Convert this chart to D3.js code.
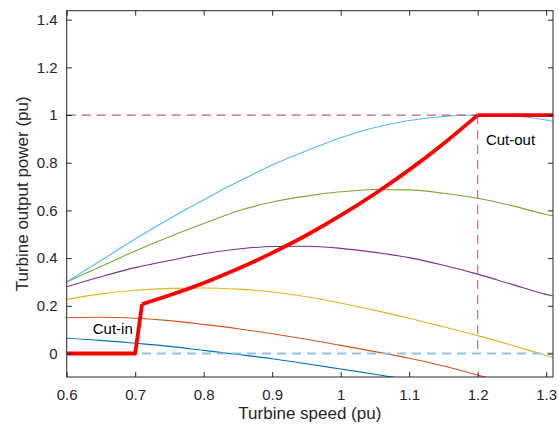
<!DOCTYPE html>
<html>
<head>
<meta charset="utf-8">
<script src="https://cdn.jsdelivr.net/npm/d3@7"></script>
<style>
  body { margin: 0; background: #fff; }
  svg { display: block; font-family: "Liberation Sans", Arial, sans-serif; }
</style>
</head>
<body>
<svg id="chart" width="559" height="425"></svg>
<script>
// ---- data ----
const speeds = [0.6, 0.65, 0.7, 0.75, 0.8, 0.85, 0.9, 0.95, 1.0, 1.05, 1.1, 1.15, 1.2, 1.25, 1.3, 1.31];
const cyanPower   = [0.30, 0.39, 0.48, 0.565, 0.645, 0.72, 0.79, 0.85, 0.905, 0.948, 0.977, 0.994, 1.0, 0.996, 0.979, 0.973];
const greenPower  = [0.30, 0.365, 0.43, 0.49, 0.545, 0.598, 0.635, 0.66, 0.678, 0.688, 0.686, 0.672, 0.651, 0.62, 0.583, 0.577];
const purplePower = [0.28, 0.322, 0.36, 0.39, 0.418, 0.438, 0.449, 0.45, 0.441, 0.424, 0.402, 0.37, 0.333, 0.29, 0.248, 0.241];
const yellowPower = [0.227, 0.25, 0.265, 0.273, 0.275, 0.27, 0.258, 0.238, 0.212, 0.181, 0.148, 0.112, 0.075, 0.035, -0.008, -0.016];
const orangePower = [0.150, 0.152, 0.148, 0.138, 0.122, 0.104, 0.083, 0.060, 0.034, 0.008, -0.02, -0.052, -0.09, -0.13, -0.17, -0.18];
const bluePower   = [0.064, 0.055, 0.043, 0.030, 0.013, -0.004, -0.022, -0.043, -0.065, -0.087, -0.11, -0.135, -0.16, -0.185, -0.21, -0.215];

// MPPT (red) curve: flat before cut-in, rising part, flat after rated speed
const mpptSpeed = [0.6, 0.7, 0.71, 0.75, 0.8, 0.85, 0.9, 0.95, 1.0, 1.05, 1.1, 1.15, 1.2, 1.31];
const mpptPower = [0, 0, 0.207, 0.244, 0.296, 0.355, 0.422, 0.496, 0.579, 0.670, 0.770, 0.880, 1.0, 1.0];

const xTicks = [0.6, 0.7, 0.8, 0.9, 1.0, 1.1, 1.2, 1.3];
const yTicks = [0, 0.2, 0.4, 0.6, 0.8, 1.0, 1.2, 1.4];
const xLabel = "Turbine speed (pu)";
const yLabel = "Turbine output power (pu)";

// ---- layout ----
const svg = d3.select("#chart");
const L = 66.7, R = 553, T = 10.7, B = 377;
const x = d3.scaleLinear().domain([0.6, 1.31]).range([L, R]);
const y = d3.scaleLinear().domain([-0.0985, 1.4375]).range([B, T]);

svg.append("defs").append("clipPath").attr("id", "clip")
  .append("rect").attr("x", L).attr("y", T).attr("width", R - L).attr("height", B - T);

const plot = svg.append("g").attr("clip-path", "url(#clip)");
const line = d3.line().x(d => x(d[0])).y(d => y(d[1])).curve(d3.curveMonotoneX);

const series = [
  { vals: bluePower,   color: "#0072BD" },
  { vals: orangePower, color: "#D95319" },
  { vals: yellowPower, color: "#EDB120" },
  { vals: purplePower, color: "#7E2F8E" },
  { vals: greenPower,  color: "#77AC30" },
  { vals: cyanPower,   color: "#4DBEEE" }
];
series.forEach(s => {
  plot.append("path")
    .datum(speeds.map((v, i) => [v, s.vals[i]]))
    .attr("fill", "none").attr("stroke", s.color).attr("stroke-width", 1.1)
    .attr("d", line);
});

// dashed reference lines
plot.append("line")
  .attr("x1", x(0.6)).attr("x2", x(1.2)).attr("y1", y(1)).attr("y2", y(1))
  .attr("stroke", "#c0607a").attr("stroke-width", 1.2).attr("stroke-dasharray", "9,6");
plot.append("line")
  .attr("x1", x(1.2)).attr("x2", x(1.2)).attr("y1", y(1)).attr("y2", y(0))
  .attr("stroke", "#c8708c").attr("stroke-width", 1.2).attr("stroke-dasharray", "9,6");
plot.append("line")
  .attr("x1", x(0.71)).attr("x2", x(1.31)).attr("y1", y(0)).attr("y2", y(0))
  .attr("stroke", "#8fc2e6").attr("stroke-width", 1.8).attr("stroke-dasharray", "9,6");

// MPPT red curve: straight segments for the steps, smooth for the rising part
const mppt = mpptSpeed.map((v, i) => [v, mpptPower[i]]);
const redLinear = d3.line().x(d => x(d[0])).y(d => y(d[1]));
const rise = mppt.filter(d => d[0] >= 0.71 && d[0] <= 1.2);
const red = { stroke: "#ff0000", w: 3.8 };
plot.append("path").datum(mppt.filter(d => d[0] <= 0.71))
  .attr("fill", "none").attr("stroke", red.stroke).attr("stroke-width", red.w)
  .attr("stroke-linejoin", "round").attr("d", redLinear);
plot.append("path").datum(rise)
  .attr("fill", "none").attr("stroke", red.stroke).attr("stroke-width", red.w)
  .attr("stroke-linejoin", "round").attr("d", line);
plot.append("path").datum(mppt.filter(d => d[0] >= 1.2))
  .attr("fill", "none").attr("stroke", red.stroke).attr("stroke-width", red.w)
  .attr("stroke-linejoin", "round").attr("d", redLinear);

// annotations
svg.append("text").attr("x", x(0.638)).attr("y", y(0.083)).attr("font-size", 15).attr("fill", "#000").text("Cut-in");
svg.append("text").attr("x", x(1.212)).attr("y", y(0.875)).attr("font-size", 15).attr("fill", "#000").text("Cut-out");

// axes box and ticks
const axisColor = "#262626";
const tl = 5;
svg.append("rect").attr("x", L).attr("y", T).attr("width", R - L).attr("height", B - T)
  .attr("fill", "none").attr("stroke", axisColor).attr("stroke-width", 1);

const fmt = d => d3.format("~g")(d);
const gx = svg.append("g").attr("transform", `translate(0,${B})`)
  .call(d3.axisBottom(x).tickValues(xTicks).tickSizeInner(-tl).tickSizeOuter(0).tickPadding(12).tickFormat(fmt));
gx.select(".domain").remove();
gx.selectAll("line").attr("stroke", axisColor);
gx.selectAll("text").attr("font-size", 15).attr("fill", axisColor).attr("font-family", "Liberation Sans, Arial, sans-serif");

const gxT = svg.append("g").attr("transform", `translate(0,${T})`)
  .call(d3.axisTop(x).tickValues(xTicks).tickSizeInner(-tl).tickSizeOuter(0).tickFormat(""));
gxT.select(".domain").remove();
gxT.selectAll("line").attr("stroke", axisColor);

const gy = svg.append("g").attr("transform", `translate(${L},0)`)
  .call(d3.axisLeft(y).tickValues(yTicks).tickSizeInner(-tl).tickSizeOuter(0).tickPadding(9).tickFormat(fmt));
gy.select(".domain").remove();
gy.selectAll("line").attr("stroke", axisColor);
gy.selectAll("text").attr("font-size", 15).attr("fill", axisColor).attr("font-family", "Liberation Sans, Arial, sans-serif");

const gyR = svg.append("g").attr("transform", `translate(${R},0)`)
  .call(d3.axisRight(y).tickValues(yTicks).tickSizeInner(-tl).tickSizeOuter(0).tickFormat(""));
gyR.select(".domain").remove();
gyR.selectAll("line").attr("stroke", axisColor);

// axis labels
svg.append("text").attr("x", (L + R) / 2).attr("y", 419).attr("text-anchor", "middle")
  .attr("font-size", 17).attr("fill", axisColor).text(xLabel);
svg.append("text").attr("transform", `translate(28,${(T + B) / 2}) rotate(-90)`).attr("text-anchor", "middle")
  .attr("font-size", 17).attr("fill", axisColor).text(yLabel);
</script>
</body>
</html>
